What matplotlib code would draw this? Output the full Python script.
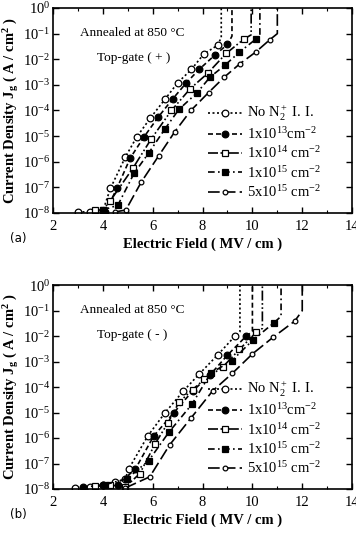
import matplotlib
matplotlib.use("Agg")
import matplotlib.pyplot as plt
from matplotlib.ticker import FixedLocator, MultipleLocator, NullFormatter

plt.rcParams['font.family'] = ['Liberation Serif', 'DejaVu Serif']
plt.rcParams['mathtext.fontset'] = 'custom'
plt.rcParams['mathtext.rm'] = 'Liberation Serif'
plt.rcParams['mathtext.it'] = 'Liberation Serif:italic'
plt.rcParams['mathtext.bf'] = 'Liberation Serif:bold'

labels = ["No N$_2^+$ I. I.", "1x10$^{13}$cm$^{-2}$", "1x10$^{14}$ cm$^{-2}$",
          "1x10$^{15}$ cm$^{-2}$", "5x10$^{15}$ cm$^{-2}$"]

# ---- Panel (a): Top-gate (+) ----
a_x1 = [3.0, 3.5, 4.0, 4.3, 4.9, 5.35, 5.9, 6.5, 7.0, 7.55, 8.05, 8.6, 8.75, 8.75]
a_y1 = [1.1e-8, 1.1e-8, 1.2e-8, 9e-8, 1.5e-6, 9e-6, 5e-5, 2.8e-4, 1.2e-3, 4e-3, 1.6e-2, 3.5e-2, 7e-2, 1]
a_x2 = [4.1, 4.56, 5.1, 5.64, 6.22, 6.81, 7.35, 7.86, 8.51, 9.0, 9.18, 9.18]
a_y2 = [1.1e-8, 9e-8, 1.4e-6, 9e-6, 5.5e-5, 2.9e-4, 1.2e-3, 4e-3, 1.5e-2, 3.8e-2, 8e-2, 1]
a_x3 = [3.7, 4.0, 4.3, 5.2, 5.95, 6.75, 7.5, 8.2, 8.95, 9.65, 9.95, 9.95]
a_y3 = [1.3e-8, 1.3e-8, 3e-8, 5.5e-7, 8e-6, 1e-4, 7e-4, 2.8e-3, 1.7e-2, 6e-2, 9e-2, 1]
a_x4 = [4.0, 4.6, 5.25, 5.84, 6.49, 7.05, 7.77, 8.3, 8.91, 9.48, 10.13, 10.3, 10.3]
a_y4 = [1.3e-8, 2e-8, 3.5e-7, 2.2e-6, 1.9e-5, 1.1e-4, 4.8e-4, 2e-3, 6e-3, 1.9e-2, 6e-2, 9e-2, 1]
a_x5 = [4.5, 4.92, 5.54, 6.24, 6.89, 7.53, 8.24, 8.87, 9.5, 10.13, 10.7, 11.0, 11.0]
a_y5 = [1.1e-8, 1.3e-8, 1.6e-7, 1.7e-6, 1.5e-5, 1e-4, 5e-4, 2e-3, 6.7e-3, 1.9e-2, 5.8e-2, 1e-1, 1]

# ---- Panel (b): Top-gate (-) ----
b_x1 = [2.9, 3.5, 4.0, 4.5, 4.9, 5.03, 5.8, 6.5, 7.23, 7.86, 8.6, 9.3, 9.5, 9.5]
b_y1 = [1.1e-8, 1.2e-8, 1.5e-8, 1.8e-8, 2.5e-8, 6e-8, 1.2e-6, 1e-5, 7e-5, 3.2e-4, 1.8e-3, 1e-2, 1.5e-2, 1]
b_x2 = [3.2, 4.0, 4.6, 5.3, 6.04, 6.85, 7.6, 8.3, 9.0, 9.75, 10.0, 10.0]
b_y2 = [1.2e-8, 1.4e-8, 1.5e-8, 6e-8, 1.2e-6, 1e-5, 7e-5, 3e-4, 1.8e-3, 1e-2, 1.5e-2, 1]
b_x3 = [3.7, 4.3, 4.9, 5.48, 6.1, 6.6, 7.05, 7.6, 8.07, 8.8, 9.48, 10.15, 10.4, 10.4]
b_y3 = [1.3e-8, 1.4e-8, 1.2e-8, 4e-8, 6e-7, 3.8e-6, 2.5e-5, 8e-5, 2e-4, 6e-4, 3e-3, 1.4e-2, 2e-2, 1]
b_x4 = [4.1, 4.96, 5.84, 6.65, 7.57, 8.33, 9.18, 10.02, 10.86, 11.15, 11.15]
b_y4 = [1.5e-8, 2.5e-8, 1.3e-7, 1.7e-6, 2.1e-5, 3.5e-4, 1.1e-3, 7e-3, 3.3e-2, 6e-2, 1]
b_x5 = [4.9, 5.88, 6.68, 7.53, 8.4, 9.2, 10.0, 10.83, 11.7, 12.0, 12.0]
b_y5 = [1.1e-8, 3e-8, 5.4e-7, 6e-6, 7e-5, 3.5e-4, 2e-3, 9e-3, 3.9e-2, 1e-1, 1]

x_ticks = [2, 4, 6, 8, 10, 12, 14]
y_ticks = [1e-8, 1e-7, 1e-6, 1e-5, 1e-4, 1e-3, 1e-2, 1e-1, 1e0]
y_ticklabels = ["10$^{-8}$", "10$^{-7}$", "10$^{-6}$", "10$^{-5}$", "10$^{-4}$",
                "10$^{-3}$", "10$^{-2}$", "10$^{-1}$", "10$^{0}$"]

styles = [
    dict(linestyle=(0, (1.2, 1.5)), marker='o', mfc='white', ms=4.8),
    dict(linestyle=(0, (3, 1.8)), marker='o', mfc='black', ms=4.8),
    dict(linestyle=(0, (6, 1.5, 1, 1.5, 1, 1.5)), marker='s', mfc='white', ms=4.8),
    dict(linestyle=(0, (4, 2, 1, 2)), marker='s', mfc='black', ms=4.8),
    dict(linestyle=(0, (7, 2.5)), marker='o', mfc='white', ms=3.4),
]

fig = plt.figure(figsize=(3.56, 5.35), dpi=100)
ax_a = fig.add_axes([0.149, 0.602, 0.840, 0.383])
ax_b = fig.add_axes([0.149, 0.086, 0.840, 0.381])

panels = [
    (ax_a, [(a_x1, a_y1), (a_x2, a_y2), (a_x3, a_y3), (a_x4, a_y4), (a_x5, a_y5)], "Top-gate ( + )", "(a)"),
    (ax_b, [(b_x1, b_y1), (b_x2, b_y2), (b_x3, b_y3), (b_x4, b_y4), (b_x5, b_y5)], "Top-gate ( - )", "(b)"),
]

for ax, series, gate, tag in panels:
    for (xs, ys), st, lab in zip(series, styles, labels):
        n = len(xs)
        ax.plot(xs, ys, color='black', lw=1.2, mec='black', mew=0.9,
                markevery=list(range(0, n - 2)), label=lab, **st)
    ax.set_yscale('log')
    ax.set_xlim(2, 14)
    ax.set_ylim(1e-8, 1e0)
    ax.xaxis.set_major_locator(FixedLocator(x_ticks))
    ax.xaxis.set_minor_locator(MultipleLocator(1))
    ax.set_yticks(y_ticks)
    ax.set_yticklabels(y_ticklabels)
    ax.yaxis.set_minor_locator(FixedLocator([]))
    ax.yaxis.set_minor_formatter(NullFormatter())
    ax.tick_params(which='both', direction='in', top=True, right=True, labelsize=10.5)
    ax.tick_params(axis='x', pad=5)
    ax.tick_params(axis='y', pad=2)
    ax.tick_params(which='major', length=4, width=1)
    ax.tick_params(which='minor', length=2.5, width=0.8)
    for sp in ax.spines.values():
        sp.set_linewidth(1.2)
    ax.set_xlabel("Electric Field ( MV / cm )", fontsize=10.5, fontweight='bold', labelpad=3)
    ax.set_ylabel("Current Density J$_\\mathbf{g}$ ( A / cm$^\\mathbf{2}$ )", fontsize=10.5,
                  fontweight='bold', labelpad=1)
    ax.text(0.09, 0.877, "Annealed at 850 °C", transform=ax.transAxes, fontsize=9.5, va='center')
    ax.text(0.147, 0.757, gate, transform=ax.transAxes, fontsize=9.5, va='center')
    ax.text(-0.145, -0.125, tag, transform=ax.transAxes, fontsize=8.5, va='center',
            family=['DejaVu Sans'])
    ax.legend(loc='lower right', bbox_to_anchor=(0.93, 0.015), frameon=False,
              fontsize=10.5, handlelength=2.3, handletextpad=0.35, labelspacing=0.22,
              borderpad=0.2, markerfirst=True)

fig.savefig("out.png", dpi=100)
